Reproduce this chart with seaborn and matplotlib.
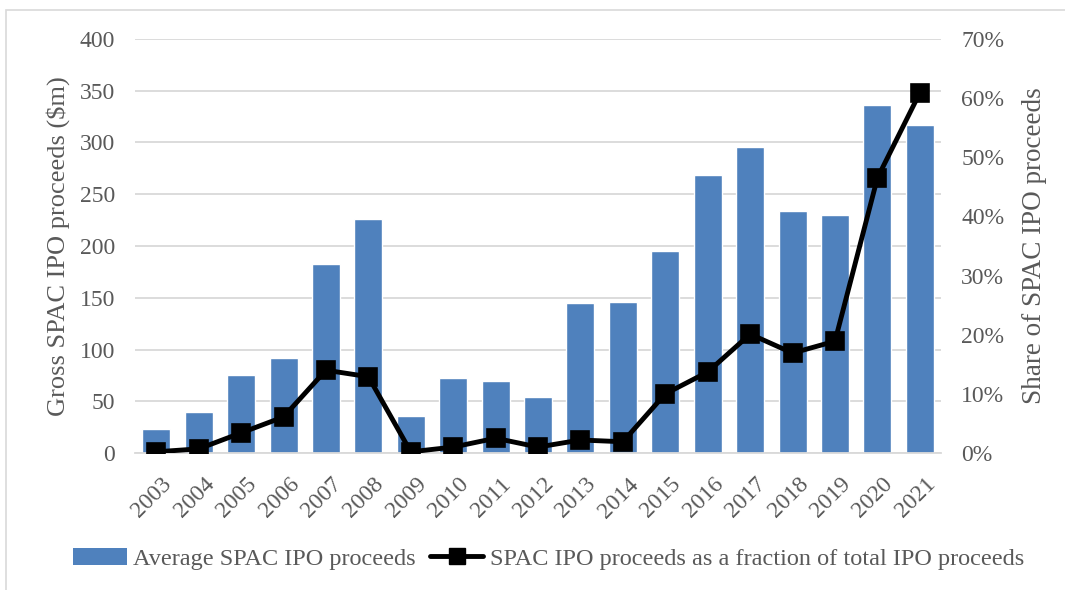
import matplotlib
matplotlib.use("Agg")
import pandas as pd
import seaborn as sns
import matplotlib.pyplot as plt
import matplotlib.transforms as mtransforms
from matplotlib.lines import Line2D
from matplotlib.patches import Patch, Rectangle
from matplotlib.ticker import FuncFormatter

years = [str(y) for y in range(2003, 2022)]
avg_proceeds = [23, 40, 75, 92, 183, 226, 36, 72, 70, 54, 145, 146, 195, 269, 296, 234, 230, 336, 317]
spac_share = [0.2, 0.7, 3.4, 6.1, 14.0, 12.9, 0.2, 1.0, 2.5, 1.0, 2.2, 1.9, 10.0, 13.7, 20.1, 16.9, 18.9, 46.5, 60.9]

df = pd.DataFrame({"Year": years, "Avg": avg_proceeds, "Share": spac_share})

sns.set_style("white")
plt.rcParams['font.family'] = ['Liberation Serif', 'DejaVu Serif']

grey = "#595959"
bar_col = "#4F81BD"

fig = plt.figure(figsize=(10.65, 5.9), dpi=100)
ax = fig.add_axes([0.1268, 0.2322, 0.7568, 0.7017])

# outer chart border
fig.patches.append(Rectangle((0.006, -0.01), 1.2, 0.993, transform=fig.transFigure,
                             fill=False, edgecolor="#D9D9D9", linewidth=1.2))

sns.barplot(data=df, x="Year", y="Avg", ax=ax, color=bar_col, width=0.66, saturation=1)
ax.set_xlim(-0.5, len(years) - 0.5)
ax.set_ylim(0, 400)
ax.set_yticks(range(0, 401, 50))
ax.grid(axis="y", color="#D9D9D9", linewidth=1.3)
ax.set_axisbelow(True)
for s in ["top", "left", "right"]:
    ax.spines[s].set_visible(False)
ax.spines["bottom"].set_color("#D9D9D9")
ax.spines["bottom"].set_linewidth(1.3)
ax.set_xlabel("")
ax.set_ylabel("Gross SPAC IPO proceeds ($m)", fontsize=19, color=grey, labelpad=7)
ax.tick_params(axis="y", length=0, labelsize=17, labelcolor=grey, pad=14.5)
ax.tick_params(axis="x", length=0, labelsize=17, labelcolor=grey, pad=15)
shift = mtransforms.ScaledTranslation(5 / 100, 0, fig.dpi_scale_trans)
for lab in ax.get_xticklabels():
    lab.set_rotation(45)
    lab.set_ha("right")
    lab.set_rotation_mode("anchor")
    lab.set_transform(lab.get_transform() + shift)

ax2 = ax.twinx()
sns.pointplot(data=df, x="Year", y="Share", ax=ax2, color="black", markers="s",
              markersize=11.5, linewidth=3.5)
ax2.set_xlim(-0.5, len(years) - 0.5)
ax2.set_ylim(0, 70)
ax2.set_yticks(range(0, 71, 10))
ax2.yaxis.set_major_formatter(FuncFormatter(lambda v, p: f"{int(v)}%"))
ax2.tick_params(axis="y", length=0, labelsize=17, labelcolor=grey, pad=14.5)
for s in ["top", "left", "right", "bottom"]:
    ax2.spines[s].set_visible(False)
ax2.set_xlabel("")
ax2.set_ylabel("Share of SPAC IPO proceeds", fontsize=19.5, color=grey, labelpad=13)

handles = [Patch(facecolor=bar_col, edgecolor="none"),
           Line2D([0], [0], color="black", linewidth=3.5, marker="s", markersize=11.5)]
labels = ["Average SPAC IPO proceeds", "SPAC IPO proceeds as a fraction of total IPO proceeds"]
fig.legend(handles, labels, loc="center", bbox_to_anchor=(0.515, 0.053), ncol=2,
           frameon=False, fontsize=17.5, labelcolor=grey, handlelength=2.2,
           handletextpad=0.25, columnspacing=0.6)

fig.savefig("out.png", dpi=100)
